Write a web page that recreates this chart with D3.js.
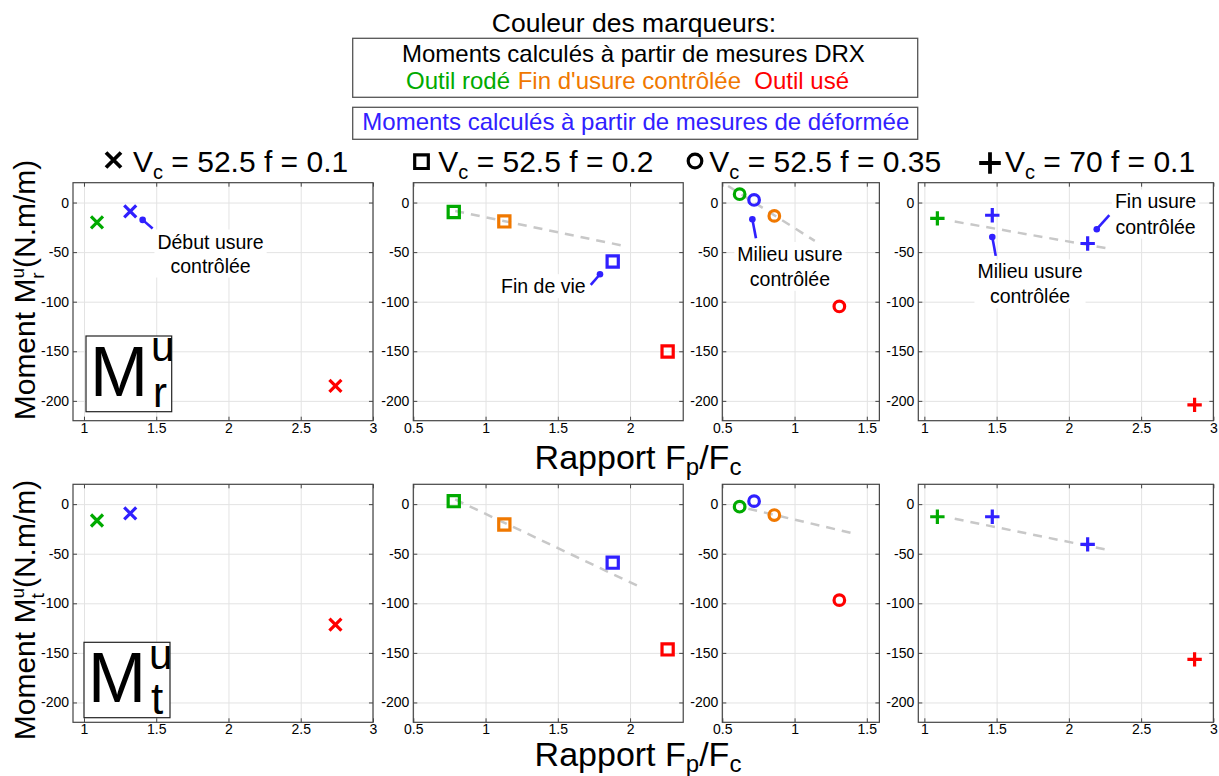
<!DOCTYPE html>
<html><head><meta charset="utf-8">
<script src="https://cdn.jsdelivr.net/npm/d3@7"></script>
<style>
body{margin:0;background:#fff}
svg text{font-family:"Liberation Sans",Arial,Helvetica,sans-serif;fill:#000}
</style></head>
<body><svg id="c" width="1219" height="776"></svg>
<script>
// ---------------- DATA ----------------
const conditions = ["Vc=52.5 f=0.1", "Vc=52.5 f=0.2", "Vc=52.5 f=0.35", "Vc=70 f=0.1"];
const titleVc = ["52.5", "52.5", "52.5", "70"];
const titleF = ["0.1", "0.2", "0.35", "0.1"];
const markerShapes = ["x", "square", "circle", "plus"];
const xTicks = [[1, 1.5, 2, 2.5, 3], [0.5, 1, 1.5, 2], [0.5, 1, 1.5], [1, 1.5, 2, 2.5, 3]];
const xDomains = [[0.924, 3], [0.5, 2.368], [0.5, 1.587], [0.958, 3]];
const yTicks = [0, -50, -100, -150, -200];
const yDomain = [-220, 20];

// Rapport Fp/Fc (x) per condition
const rapportRode = [1.09, 0.78, 0.62, 1.09];
const rapportFinUsure = [null, 1.13, 0.86, null];
const rapportUse = [2.74, 2.26, 1.31, 2.87];
const rapportDeformee = [[1.32], [1.88], [0.72], [1.47, 2.13]];

// Moment Mr^u
const mrRode = [-20, -9.5, 8.4, -16];
const mrFinUsure = [null, -19, -13.5, null];
const mrUse = [-185, -150.2, -104.8, -204];
const mrDeformee = [[-9], [-59.5], [2.6], [-12.8, -41.3]];

// Moment Mt^u
const mtRode = [-16.5, 3, -2.6, -12.7];
const mtFinUsure = [null, -20.5, -11, null];
const mtUse = [-121.5, -146.5, -96.8, -156.5];
const mtDeformee = [[-9.4], [-59], [3], [-12.7, -40.6]];

// dashed trend segments [xStart, yStart, xEnd, yEnd]
const mrTrend = [null, [0.79, -8.5, 1.98, -44.4], [0.54, 16.7, 1.14, -38.7], [1.21, -19.2, 2.30, -47]];
const mtTrend = [null, [0.79, 4.7, 2.09, -85], [0.68, -4.6, 1.405, -29.5], [1.21, -14.7, 2.26, -45.9]];

// annotations (top row), data units
const annotations = [
  {panel: 0, lines: ["Début usure", "contrôlée"], tx: 1.876, ty: [-46.4, -70.6], dot: [1.406, -17.5], end: [1.475, -26.2]},
  {panel: 1, lines: ["Fin de vie"], tx: 1.40, ty: [-91.4], dot: [1.792, -72.3], end: [1.728, -83]},
  {panel: 2, lines: ["Milieu usure", "contrôlée"], tx: 0.968, ty: [-58.9, -84], dot: [0.708, -16.8], end: [0.733, -36]},
  {panel: 3, lines: ["Milieu usure", "contrôlée"], tx: 1.731, ty: [-76.6, -101.8], dot: [1.47, -34.7], end: [1.494, -53.8]},
  {panel: 3, lines: ["Fin usure", "contrôlée"], tx: 2.60, ty: [-6, -31.3], dot: [2.193, -26.9], end: [2.28, -12.8]}
];

// ---------------- LAYOUT ----------------
const svg = d3.select("#c");
const pxPerUnit = 144.5;
const panelLeft = [73, 413.3, 722.3, 918.3];
const rowTop = [182.7, 484.3];
const rowH = 238;
const colors = {rode: "#00aa00", fin: "#f07800", use: "#ff0000", def: "#3020ff"};
const frameColor = "#444";
const gridColor = "#e3e3e3";

function markerPath(shape, s) {
  const p = d3.path();
  if (shape === "x") { p.moveTo(-s, -s); p.lineTo(s, s); p.moveTo(-s, s); p.lineTo(s, -s); }
  else if (shape === "plus") { p.moveTo(-s, 0); p.lineTo(s, 0); p.moveTo(0, -s); p.lineTo(0, s); }
  else if (shape === "square") { p.rect(-s, -s, 2 * s, 2 * s); }
  else { p.arc(0, 0, s, 0, 2 * Math.PI); }
  return p.toString();
}
const markerSize = {x: 6, plus: 7.2, square: 5.6, circle: 5.3};

const rows = [
  {rode: mrRode, fin: mrFinUsure, use: mrUse, def: mrDeformee, trend: mrTrend, ann: true},
  {rode: mtRode, fin: mtFinUsure, use: mtUse, def: mtDeformee, trend: mtTrend, ann: false}
];

rows.forEach((row, ri) => {
  conditions.forEach((cond, pi) => {
    const dom = xDomains[pi];
    const x = d3.scaleLinear().domain(dom).range([panelLeft[pi], panelLeft[pi] + (dom[1] - dom[0]) * pxPerUnit]);
    const y = d3.scaleLinear().domain(yDomain).range([rowTop[ri] + rowH, rowTop[ri]]);
    const [x0, x1] = x.range(), [yb, yt] = y.range();
    const w = x1 - x0, h = yb - yt;
    const g = svg.append("g");

    // grid
    const gy = g.append("g").attr("transform", `translate(${x0},0)`)
      .call(d3.axisLeft(y).tickValues(yTicks).tickSize(-w).tickFormat(""));
    const gx = g.append("g").attr("transform", `translate(0,${yb})`)
      .call(d3.axisBottom(x).tickValues(xTicks[pi]).tickSize(-h).tickFormat(""));
    [gx, gy].forEach(a => { a.select(".domain").remove(); a.selectAll("line").attr("stroke", gridColor).attr("stroke-width", 1); });

    // trend
    const t = row.trend[pi];
    if (t) {
      g.append("line").attr("x1", x(t[0])).attr("y1", y(t[1])).attr("x2", x(t[2])).attr("y2", y(t[3]))
        .attr("stroke", "#c8c8c8").attr("stroke-width", 2.5).attr("stroke-dasharray", "9,7");
    }

    // annotations
    if (row.ann) {
      annotations.filter(a => a.panel === pi).forEach(a => {
        const ag = g.append("g");
        const tg = ag.append("g");
        a.lines.forEach((ln, li) => {
          tg.append("text").attr("x", x(a.tx)).attr("y", y(a.ty[li])).attr("text-anchor", "middle")
            .style("font-size", "19.5px").text(ln);
        });
        const bb = tg.node().getBBox();
        tg.insert("rect", "text").attr("x", bb.x - 3).attr("y", bb.y - 1).attr("width", bb.width + 6).attr("height", bb.height + 2).attr("fill", "#fff");
        ag.append("line").attr("x1", x(a.dot[0])).attr("y1", y(a.dot[1])).attr("x2", x(a.end[0])).attr("y2", y(a.end[1]))
          .attr("stroke", colors.def).attr("stroke-width", 2.6);
        ag.append("circle").attr("cx", x(a.dot[0])).attr("cy", y(a.dot[1])).attr("r", 3.3).attr("fill", colors.def);
      });
    }

    // axes with inward ticks on all sides
    const fmt = d => String(d);
    const left = g.append("g").attr("transform", `translate(${x0},0)`)
      .call(d3.axisLeft(y).tickValues(yTicks).tickSize(-4).tickPadding(4).tickFormat(fmt));
    const right = g.append("g").attr("transform", `translate(${x1},0)`)
      .call(d3.axisRight(y).tickValues(yTicks).tickSize(-4).tickFormat(""));
    const bottom = g.append("g").attr("transform", `translate(0,${yb})`)
      .call(d3.axisBottom(x).tickValues(xTicks[pi]).tickSize(-4).tickPadding(2).tickFormat(fmt));
    const top = g.append("g").attr("transform", `translate(0,${yt})`)
      .call(d3.axisTop(x).tickValues(xTicks[pi]).tickSize(-4).tickFormat(""));
    [left, right, bottom, top].forEach(a => {
      a.select(".domain").remove();
      a.selectAll("line").attr("stroke", frameColor);
      a.selectAll("text").attr("fill", "#000").style("font-size", "14px").style("font-family", '"Liberation Sans",Arial,sans-serif');
    });
    g.append("rect").attr("x", x0).attr("y", yt).attr("width", w).attr("height", h)
      .attr("fill", "none").attr("stroke", frameColor).attr("stroke-width", 1.2);

    // markers
    const shape = markerShapes[pi];
    const pts = [];
    if (rapportRode[pi] != null) pts.push({x: rapportRode[pi], y: row.rode[pi], c: colors.rode});
    if (rapportFinUsure[pi] != null) pts.push({x: rapportFinUsure[pi], y: row.fin[pi], c: colors.fin});
    rapportDeformee[pi].forEach((rx, k) => pts.push({x: rx, y: row.def[pi][k], c: colors.def}));
    pts.push({x: rapportUse[pi], y: row.use[pi], c: colors.use});
    g.selectAll(null).data(pts).join("path")
      .attr("transform", d => `translate(${x(d.x)},${y(d.y)})`)
      .attr("d", markerPath(shape, markerSize[shape]))
      .attr("fill", "none").attr("stroke", d => d.c)
      .attr("stroke-width", 3.2);
  });
});

// ---------------- TITLES ----------------
const titleMarkerX = [113.5, 421.5, 695, 990];
const titleMarkerY = [160, 161.7, 161, 163];
const titleTextX = [133, 438.3, 709.3, 1005];
const titleMarkerSize = {x: 7.5, square: 6.8, circle: 6.8, plus: 10.8};
conditions.forEach((c, i) => {
  const sh = markerShapes[i];
  svg.append("path").attr("transform", `translate(${titleMarkerX[i]},${titleMarkerY[i]})`)
    .attr("d", markerPath(sh, titleMarkerSize[sh])).attr("fill", "none").attr("stroke", "#000")
    .attr("stroke-width", sh === "x" || sh === "plus" ? 3.8 : 3.2);
  const t = svg.append("text").attr("x", titleTextX[i]).attr("y", 171.7).style("font-size", "30px");
  t.append("tspan").text("V");
  t.append("tspan").attr("dy", 7).style("font-size", "20px").text("c");
  t.append("tspan").attr("dy", -7).text(` = ${titleVc[i]} f = ${titleF[i]}`);
});

// ---------------- LEGEND ----------------
svg.append("text").attr("x", 634).attr("y", 32).attr("text-anchor", "middle").style("font-size", "26.5px").text("Couleur des marqueurs:");
svg.append("rect").attr("x", 352.7).attr("y", 38.3).attr("width", 565).attr("height", 59).attr("fill", "none").attr("stroke", "#555").attr("stroke-width", 1.3);
svg.append("text").attr("x", 633.4).attr("y", 61.7).attr("text-anchor", "middle").style("font-size", "24px").text("Moments calculés à partir de mesures DRX");
svg.append("text").attr("x", 406).attr("y", 89.3).style("font-size", "24px").style("fill", colors.rode).text("Outil rodé");
svg.append("text").attr("x", 517.7).attr("y", 89.3).style("font-size", "24px").style("fill", colors.fin).text("Fin d'usure contrôlée");
svg.append("text").attr("x", 754.3).attr("y", 89.3).style("font-size", "24px").style("fill", colors.use).text("Outil usé");
svg.append("rect").attr("x", 352.7).attr("y", 107.3).attr("width", 565).attr("height", 32).attr("fill", "none").attr("stroke", "#555").attr("stroke-width", 1.3);
svg.append("text").attr("x", 635.8).attr("y", 130).attr("text-anchor", "middle").style("font-size", "24px").style("fill", colors.def).text("Moments calculés à partir de mesures de déformée");

// ---------------- AXIS LABELS ----------------
const yLabSub = ["r", "t"];
const yLabCenter = [290, 610];
yLabSub.forEach((s, i) => {
  const t = svg.append("text").attr("transform", `translate(35,${yLabCenter[i]}) rotate(-90)`).attr("text-anchor", "middle").style("font-size", "30px");
  t.append("tspan").text("Moment M");
  t.append("tspan").attr("dy", -11).style("font-size", "19px").text("u");
  t.append("tspan").attr("dx", -10.6).attr("dy", 20).style("font-size", "19px").text(s);
  t.append("tspan").attr("dx", s === "r" ? 4.3 : 5.3).attr("dy", -9).text("(N.m/m)");
});
const xLabY = [469, 766];
xLabY.forEach(yy => {
  const t = svg.append("text").attr("x", 638).attr("y", yy).attr("text-anchor", "middle").style("font-size", "34px");
  t.append("tspan").text("Rapport F");
  t.append("tspan").attr("dy", 6).style("font-size", "24px").text("p");
  t.append("tspan").attr("dy", -6).text("/F");
  t.append("tspan").attr("dy", 6).style("font-size", "24px").text("c");
});

// ---------------- M boxes ----------------
const mBoxes = [
  {x: 86, y: 336, w: 85.7, h: 75.7, mBase: 396, sub: "r", supBase: 361, subBase: 407, subSize: 42},
  {x: 84, y: 642.3, w: 86, h: 75.4, mBase: 701.7, sub: "t", supBase: 669, subBase: 714, subSize: 44}
];
mBoxes.forEach(b => {
  svg.append("rect").attr("x", b.x).attr("y", b.y).attr("width", b.w).attr("height", b.h).attr("fill", "#fff").attr("stroke", "#222").attr("stroke-width", 1.2);
  svg.append("text").attr("x", b.x + 4).attr("y", b.mBase).style("font-size", "70px")
    .attr("textLength", 58).attr("lengthAdjust", "spacingAndGlyphs").text("M");
  svg.append("text").attr("x", b.x + 65).attr("y", b.supBase).style("font-size", "42px").text("u");
  svg.append("text").attr("x", b.x + 67).attr("y", b.subBase).style("font-size", b.subSize + "px").text(b.sub);
});
</script>
</body></html>
